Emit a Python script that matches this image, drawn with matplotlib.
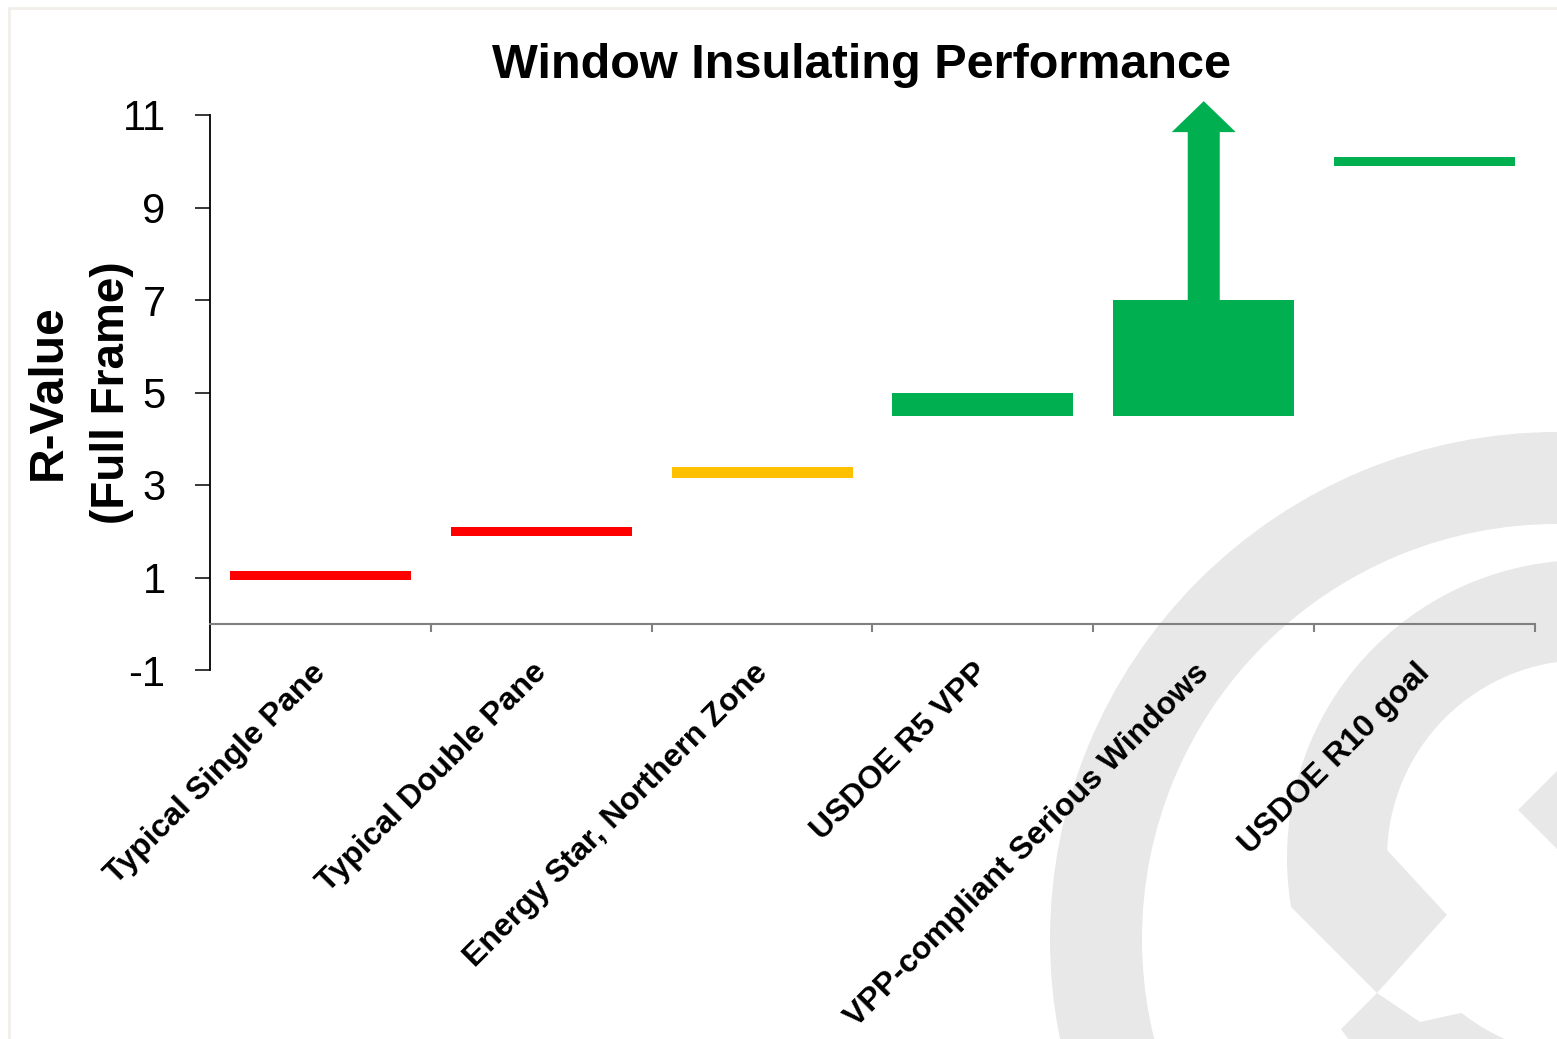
import numpy as np
import matplotlib
matplotlib.use("Agg")
import matplotlib.pyplot as plt
from matplotlib.patches import Wedge, Polygon, FancyArrow

categories = ["Typical Single Pane", "Typical Double Pane",
              "Energy Star, Northern Zone", "USDOE R5 VPP",
              "VPP-compliant Serious Windows", "USDOE R10 goal"]
r_low = np.array([0.95, 1.9, 3.15, 4.5, 4.5, 9.9])
r_high = np.array([1.15, 2.1, 3.4, 5.0, 7.0, 10.1])
# the serious windows bar keeps going up past the axis
arrow_from = 7.0
arrow_to = 11.3

RED = "#FF0000"
AMBER = "#FFC000"
GREEN = "#00B050"
bar_colors = [RED, RED, AMBER, GREEN, GREEN, GREEN]

plt.rcParams["axes.unicode_minus"] = False

W, H = 1557, 1039
fig = plt.figure(figsize=(W / 100, H / 100), dpi=100)
fig.patch.set_facecolor("white")


def px(pts):
    # screen pixels (y down) -> background axes coords (y up)
    return [(a, H - b) for a, b in pts]


# watermark logo in the background
bg = fig.add_axes([0, 0, 1, 1], zorder=0)
bg.set_xlim(0, W)
bg.set_ylim(0, H)
bg.axis("off")
wm = "#E8E8E8"
bg.add_patch(Wedge((1557, H - 939), 507, 0, 360, width=92, color=wm, lw=0))
bg.add_patch(Wedge((1585, H - 858), 298, 0, 360, width=100, color=wm, lw=0))
bg.add_patch(Polygon(px([(1387, 850), (1447, 915), (1377, 993), (1340, 900)]),
                     color=wm, lw=0))
bg.add_patch(Polygon(px([(1377, 993), (1227, 843), (1227, 1143)]),
                     color="white", lw=0))
bg.add_patch(Polygon(px([(1377, 993), (1447, 915), (1520, 960), (1520, 1000),
                         (1420, 1022)]), color="white", lw=0))
bg.add_patch(Polygon(px([(1518, 810), (1600, 728), (1600, 892)]),
                     color=wm, lw=0))
# faint frame
bg.plot([9, 9, W], [0, H - 8, H - 8], color="#F2EEE8", lw=2)

ax = fig.add_axes([210 / W, 1 - 670 / H, 1325 / W, 555 / H], zorder=1)
ax.set_facecolor("none")

x = np.arange(len(categories))
ax.bar(x, r_high - r_low, bottom=r_low, width=0.82, color=bar_colors,
       zorder=3)
ax.add_patch(FancyArrow(4, arrow_from, 0, arrow_to - arrow_from,
                        width=0.145, head_width=0.29, head_length=0.67,
                        length_includes_head=True, color=GREEN, lw=0,
                        clip_on=False, zorder=3))

ax.set_xlim(-0.5, 5.5)
ax.set_ylim(-1, 11)
ax.set_yticks([-1, 1, 3, 5, 7, 9, 11])
ax.set_xticks(np.arange(0.5, 6, 1.0))
ax.set_xticklabels([])

for s in ["top", "right"]:
    ax.spines[s].set_visible(False)
ax.spines["left"].set_linewidth(1.3)
ax.spines["bottom"].set_position(("data", 0))
ax.spines["bottom"].set_color("#808080")
ax.spines["bottom"].set_linewidth(1.5)

ax.tick_params(axis="y", direction="out", length=11, width=1.1, pad=21)
ax.tick_params(axis="x", direction="out", length=6, width=1.5,
               color="#808080")
tick_font = ["Liberation Sans Narrow", "Liberation Sans"]
for lab in ax.get_yticklabels():
    lab.set_fontfamily(tick_font)
    lab.set_fontsize(30)

for i, name in enumerate(categories):
    ax.annotate(name, xy=(i, 0), xycoords=("data", "axes fraction"),
                xytext=(-7, 9), textcoords="offset points",
                rotation=45, rotation_mode="anchor", ha="right", va="top",
                fontsize=23, fontweight="bold", family="Liberation Sans",
                annotation_clip=False)

fig.text(861 / W, 1 - 66 / H, "Window Insulating Performance",
         ha="center", va="center", fontsize=35, fontweight="bold",
         family=tick_font)
fig.text(48 / W, 1 - 392 / H, "R-Value", rotation=90, ha="center",
         va="center", fontsize=34.5, fontweight="bold", family="Liberation Sans")
fig.text(112 / W, 1 - 393 / H, "(Full Frame)", rotation=90, ha="center",
         va="center", fontsize=33, fontweight="bold", family="Liberation Sans")

fig.savefig("out.png", dpi=100)
